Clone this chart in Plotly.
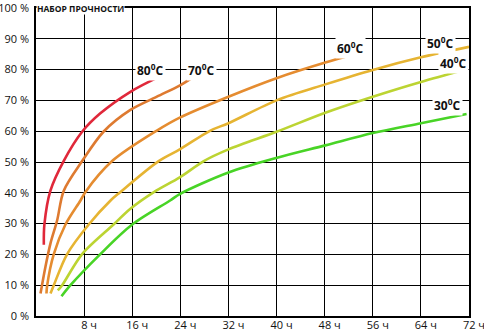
import plotly.graph_objects as go

# Hours / strength (%)
t80 = [1.3, 1.4, 2.4, 4.6, 7.7, 10.7, 15.7, 20.6]
s80 = [23.1, 29.8, 40.7, 50.3, 59.9, 65.8, 72.8, 77.8]

t70 = [0.75, 1.58, 2.41, 3.52, 4.62, 7.67, 11.26, 15.7, 20.1, 23.95, 26.4]
s70 = [7.3, 16.1, 23.6, 31.1, 40.7, 50.3, 59.9, 66.9, 71.2, 74.9, 77.9]

t60 = [1.74, 1.86, 2.96, 4.9, 7.4, 8.2, 12.66, 20.1, 23.9, 32.0, 40.1, 48.1, 52.8]
s60 = [7.3, 10.0, 20.1, 29.7, 37.5, 40.2, 50.3, 60.2, 64.4, 71.2, 77.3, 82.3, 84.9]

t50 = [2.41, 2.96, 5.18, 8.77, 12.4, 14.0, 20.4, 23.9, 29.0, 32.0, 40.1, 48.1, 56.0, 64.0, 72.0]
s50 = [7.3, 10.0, 20.1, 29.7, 37.5, 40.2, 50.3, 54.1, 60.2, 62.6, 70.1, 75.2, 79.9, 84.0, 87.4]

t40 = [3.62, 4.35, 7.67, 12.9, 15.7, 19.6, 23.9, 27.9, 32.0, 40.1, 48.1, 56.0, 64.0, 70.9]
s40 = [8.3, 10.0, 20.1, 29.7, 34.8, 40.2, 45.0, 50.3, 54.1, 59.9, 66.0, 71.2, 76.0, 79.7]

t30 = [4.24, 5.73, 10.7, 16.0, 22.3, 23.9, 32.0, 40.1, 48.1, 56.0, 64.0, 71.6]
s30 = [6.4, 10.0, 20.1, 29.7, 37.5, 39.6, 46.6, 51.4, 55.4, 59.4, 62.6, 65.6]

x_ticks = [8, 16, 24, 32, 40, 48, 56, 64, 72]
x_labels = ["8 ч", "16 ч", "24 ч", "32 ч", "40 ч", "48 ч", "56 ч", "64 ч", "72 ч"]
y_ticks = [0, 10, 20, 30, 40, 50, 60, 70, 80, 90, 100]
y_labels = ["0 %", "10 %", "20 %", "30 %", "40 %", "50 %", "60 %", "70 %", "80 %", "90 %", "100 %"]

series = [
    (t80, s80, "#e0283a"),
    (t70, s70, "#de7a30"),
    (t60, s60, "#e58c30"),
    (t50, s50, "#e6b432"),
    (t40, s40, "#bcd432"),
    (t30, s30, "#48d426"),
]

labels = [
    ("80", 19.0, 80.0),
    ("70", 27.5, 80.0),
    ("60", 52.3, 87.0),
    ("50", 67.2, 88.5),
    ("40", 69.5, 82.2),
    ("30", 68.4, 68.5),
]

fig = go.Figure()
for t, s, c in series:
    fig.add_trace(go.Scatter(x=t, y=s, mode="lines",
                             line=dict(color=c, width=2.6, shape="spline", smoothing=0.9),
                             hoverinfo="skip", showlegend=False))

for txt, x, y in labels:
    fig.add_annotation(x=x, y=y, text=f"<b>{txt}<sup>0</sup>C</b>", showarrow=False,
                       bgcolor="white", borderpad=1,
                       font=dict(family="Open Sans", size=12, color="#111111"))

fig.add_annotation(x=0, y=100, xref="x", yref="y", xanchor="left", yanchor="middle",
                   text="<b>НАБОР ПРОЧНОСТИ</b>", showarrow=False, bgcolor="white",
                   borderpad=0, font=dict(family="Open Sans", size=8.5, color="#111111"))

axis_font = dict(family="Open Sans", size=11, color="#111111")
fig.update_xaxes(range=[0, 72], tickvals=x_ticks, ticktext=x_labels, showgrid=True,
                 gridcolor="black", gridwidth=1.3, showline=True, linecolor="black",
                 linewidth=1.5, mirror=True, zeroline=False, ticks="",
                 tickfont=axis_font, ticklabelshift=5, ticklabelstandoff=-2,
                 ticklabeloverflow="allow", automargin=False)
fig.update_yaxes(range=[0, 100], tickvals=y_ticks, ticktext=y_labels, showgrid=True,
                 gridcolor="black", gridwidth=1.3, showline=True, linecolor="black",
                 linewidth=1.5, mirror=True, zeroline=False, ticks="",
                 tickfont=axis_font, ticklabelstandoff=3, ticklabeloverflow="allow",
                 automargin=False)

fig.update_layout(width=484, height=331, plot_bgcolor="white", paper_bgcolor="white",
                  margin=dict(l=36, r=15, t=8, b=15), showlegend=False)

fig.write_html("out.html")
